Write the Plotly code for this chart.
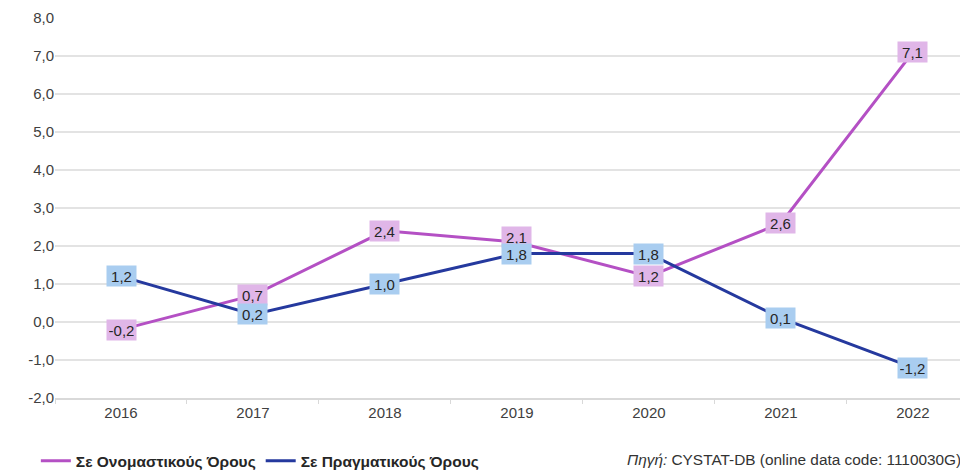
import plotly.graph_objects as go

years = ['2016', '2017', '2018', '2019', '2020', '2021', '2022']
nominal = [-0.2, 0.7, 2.4, 2.1, 1.2, 2.6, 7.1]
real = [1.2, 0.2, 1.0, 1.8, 1.8, 0.1, -1.2]
y_ticks = [-2, -1, 0, 1, 2, 3, 4, 5, 6, 7, 8]

name_nominal = 'Σε Ονομαστικούς Όρους'
name_real = 'Σε Πραγματικούς Όρους'

PINK = '#b450c4'
BLUE = '#25399e'
PINK_BG = '#e0b6e8'
BLUE_BG = '#a9cdf0'
FONT = 'Liberation Sans, Arial'

fig = go.Figure()

fig.add_trace(go.Scatter(
    x=years, y=nominal, name=name_nominal, mode='lines',
    line=dict(color=PINK, width=3)
))
fig.add_trace(go.Scatter(
    x=years, y=real, name=name_real, mode='lines',
    line=dict(color=BLUE, width=3)
))

def fmt(v):
    return f"{v:.1f}".replace('.', ',')

# etiquetas de datos con fondo de color (x por índice de categoría)
for serie, bg in ((nominal, PINK_BG), (real, BLUE_BG)):
    for i, v in enumerate(serie):
        shift = 5 if (serie is nominal and years[i] == '2019') else 0
        fig.add_annotation(
            x=i, y=v, text=fmt(v), showarrow=False,
            bgcolor=bg, borderpad=2, width=25, height=16, yshift=shift,
            font=dict(family=FONT, size=15, color='#262626')
        )

fig.add_annotation(
    xref='paper', yref='paper', x=0.9945, y=-0.163,
    xanchor='right', yanchor='middle', showarrow=False,
    text='<i>Πηγή:</i> CYSTAT-DB (online data code: 1110030G)',
    font=dict(family=FONT, size=15.4, color='#333333')
)

fig.update_layout(
    width=960, height=462,
    margin=dict(l=47, r=0, t=10, b=72),
    paper_bgcolor='white', plot_bgcolor='white',
    font=dict(family=FONT, size=15, color='#404040'),
    showlegend=True,
    legend=dict(
        orientation='h', xref='container', yref='container',
        x=0.029, y=0.019, xanchor='left', yanchor='middle',
        font=dict(family=FONT, size=15.5, color='#262626', weight='bold'),
        itemwidth=30, tracegroupgap=0
    ),
    xaxis=dict(
        type='category', range=[-0.5, 6.417],
        showgrid=False, showline=True, linecolor='#d9d9d9', linewidth=1.5,
        ticks='outside', tickson='boundaries', ticklen=4, tickcolor='#d9d9d9',
        tickfont=dict(size=15, color='#404040'), zeroline=False
    ),
    yaxis=dict(
        range=[-2, 8], tickmode='array', tickvals=y_ticks,
        ticktext=[fmt(t) for t in y_ticks],
        showgrid=True, gridcolor='#e3e3e3', gridwidth=1.5,
        zeroline=False, showline=False, ticks='',
        tickfont=dict(size=15, color='#404040')
    )
)

fig.write_html("out.html")
